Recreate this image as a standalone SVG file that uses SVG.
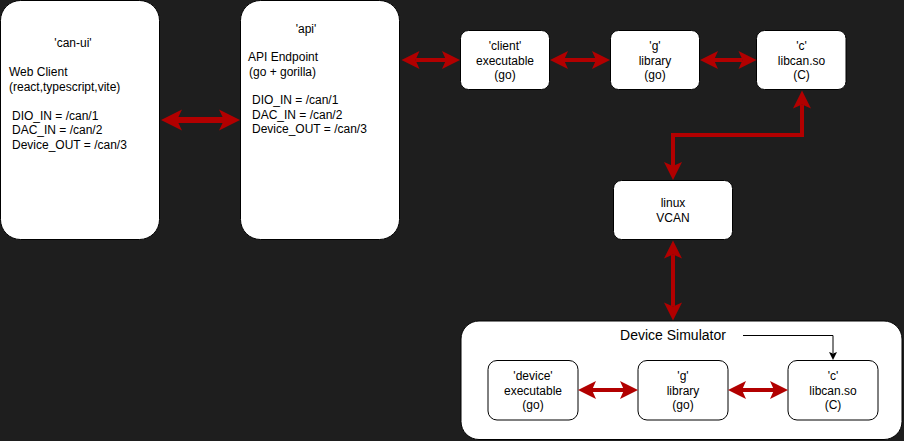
<svg xmlns="http://www.w3.org/2000/svg" width="904" height="441" viewBox="0 0 904 441">
<style>
.box{fill:#ffffff;stroke:#000000;stroke-width:1}
.t{font-family:"Liberation Sans",Arial,sans-serif;font-size:12px;fill:#000000}
.c{text-anchor:middle}
.title{font-family:"Liberation Sans",Arial,sans-serif;font-size:14px;fill:#000000;text-anchor:middle}
.red{fill:none;stroke:#B20000;stroke-width:4;marker-start:url(#ah);marker-end:url(#ah)}
.redL{fill:none;stroke:#B20000;stroke-width:6;marker-start:url(#ahL);marker-end:url(#ahL)}
.blk{fill:none;stroke:#000000;stroke-width:1}
</style>
<defs>
<marker id="ah" markerUnits="userSpaceOnUse" viewBox="0 -10 20 20" markerWidth="20" markerHeight="20" refX="4" refY="0" orient="auto-start-reverse" overflow="visible">
<path d="M18,0 L0,-9 L4,0 L0,9 Z" fill="#B20000"/>
</marker>
<marker id="ahL" markerUnits="userSpaceOnUse" viewBox="0 -11 22 22" markerWidth="22" markerHeight="22" refX="5" refY="0" orient="auto-start-reverse" overflow="visible">
<path d="M21,0 L0,-10.5 L5,0 L0,10.5 Z" fill="#B20000"/>
</marker>
<marker id="bh" markerUnits="userSpaceOnUse" viewBox="0 -5 8 10" markerWidth="8" markerHeight="10" refX="1" refY="0" orient="auto" overflow="visible">
<path d="M8,0 L0,-4 L1.5,0 L0,4 Z" fill="#000000"/>
</marker>
</defs>
<rect width="904" height="441" fill="#1e1e1e"/>

<g id="sim">
<rect x="461" y="321" width="441" height="118.5" rx="18" class="box"/>
<text class="title" x="673" y="340">Device Simulator</text>
</g>

<g id="can-ui">
<rect x="0.5" y="0.5" width="159" height="239" rx="20" class="box"/>
<text class="t c" x="73" y="47">'can-ui'</text>
<text class="t" x="9" y="76">Web Client</text>
<text class="t" x="9" y="90.5">(react,typescript,vite)</text>
<text class="t" x="12" y="119.5">DIO_IN = /can/1</text>
<text class="t" x="12" y="134">DAC_IN = /can/2</text>
<text class="t" x="12" y="148.5">Device_OUT = /can/3</text>
</g>

<g id="api">
<rect x="240.5" y="0.5" width="159" height="239" rx="20" class="box"/>
<text class="t c" x="306" y="32.5">'api'</text>
<text class="t" x="248" y="61">API Endpoint</text>
<text class="t" x="249" y="75.5">(go + gorilla)</text>
<text class="t" x="252" y="104">DIO_IN = /can/1</text>
<text class="t" x="252" y="118.5">DAC_IN = /can/2</text>
<text class="t" x="252" y="133">Device_OUT = /can/3</text>
</g>

<g id="client">
<rect x="460.5" y="30.5" width="89" height="59" rx="8" class="box"/>
<text class="t c" x="505" y="50">'client'</text>
<text class="t c" x="505" y="64.5">executable</text>
<text class="t c" x="505" y="79">(go)</text>
</g>

<g id="g-top">
<rect x="610.5" y="30.5" width="89" height="59" rx="8" class="box"/>
<text class="t c" x="655" y="50">'g'</text>
<text class="t c" x="655" y="64.5">library</text>
<text class="t c" x="655" y="79">(go)</text>
</g>

<g id="c-top">
<rect x="756.5" y="30.5" width="89.5" height="59" rx="8" class="box"/>
<text class="t c" x="801.5" y="50">'c'</text>
<text class="t c" x="801.5" y="64.5">libcan.so</text>
<text class="t c" x="801.5" y="79">(C)</text>
</g>

<g id="vcan">
<rect x="613.5" y="180.5" width="119" height="59" rx="8" class="box"/>
<text class="t c" x="673" y="207">linux</text>
<text class="t c" x="673" y="221.5">VCAN</text>
</g>

<g id="device">
<rect x="488" y="360.5" width="90" height="59.5" rx="9" class="box"/>
<text class="t c" x="533" y="380">'device'</text>
<text class="t c" x="533" y="394.5">executable</text>
<text class="t c" x="533" y="409">(go)</text>
</g>

<g id="g-sim">
<rect x="638" y="360.5" width="90" height="59.5" rx="9" class="box"/>
<text class="t c" x="683" y="380">'g'</text>
<text class="t c" x="683" y="394.5">library</text>
<text class="t c" x="683" y="409">(go)</text>
</g>

<g id="c-sim">
<rect x="788" y="360.5" width="90" height="59.5" rx="9" class="box"/>
<text class="t c" x="833" y="380">'c'</text>
<text class="t c" x="833" y="394.5">libcan.so</text>
<text class="t c" x="833" y="409">(C)</text>
</g>

<g id="connectors">
<path class="redL" d="M177 120 H224"/>
<path class="red" d="M415.5 60 H446"/>
<path class="red" d="M564 60 H596"/>
<path class="red" d="M714 60 H742.5"/>
<path class="red" d="M802 104.5 V135 H673 V166"/>
<path class="red" d="M673 254.5 V306.5"/>
<path class="red" d="M592 390 H624"/>
<path class="red" d="M742 390 H774"/>
<path class="blk" d="M743 335.5 H833 V353" marker-end="url(#bh)"/>
</g>
</svg>
